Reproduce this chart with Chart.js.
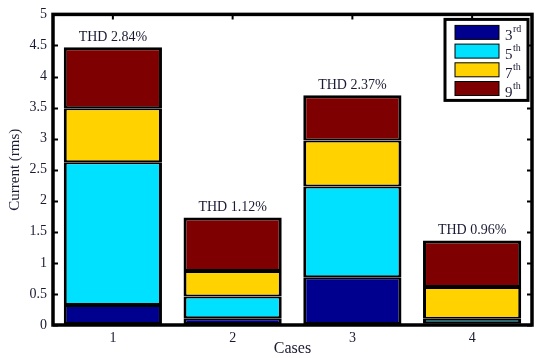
<!DOCTYPE html>
<html>
<head>
<meta charset="utf-8">
<script src="https://cdn.jsdelivr.net/npm/chart.js@4"></script>
<style>
  html, body { margin: 0; padding: 0; background: #fff; }
  #wrap { width: 550px; height: 358px; }
</style>
</head>
<body>
<div id="wrap"><canvas id="harm-graph"></canvas></div>
<script>
// data
var cases = ['1', '2', '3', '4'];
var thd = ['THD 2.84%', 'THD 1.12%', 'THD 2.37%', 'THD 0.96%'];
var h3 = [0.32, 0.11, 0.77, 0.03];
var h5 = [2.30, 0.35, 1.46, 0.07];
var h7 = [0.87, 0.41, 0.74, 0.51];
var h9 = [0.98, 0.86, 0.73, 0.75];
var harmNames = [['3', 'rd'], ['5', 'th'], ['7', 'th'], ['9', 'th']];
var harmColors = ['#00008f', '#00e1ff', '#ffd200', '#7f0000'];
var yTicks = [0, 0.5, 1, 1.5, 2, 2.5, 3, 3.5, 4, 4.5, 5];

var serif = "'Liberation Serif', 'DejaVu Serif', serif";

function bw(i) {
	return {
		left: 3, right: 3,
		top: i == 3 ? 3 : 2,
		bottom: i == 0 ? 3 : 2
	};
}

var frame = {
	id: 'frame',
	afterDatasetsDraw: function(chart) {
		var c = chart.ctx, a = chart.chartArea;
		var x = chart.scales.x, y = chart.scales.y;
		c.save();
		c.strokeStyle = '#000';
		c.lineWidth = 2;
		// inward ticks
		c.beginPath();
		yTicks.forEach(function(v) {
			var py = Math.round(y.getPixelForValue(v)) + 0.5;
			c.moveTo(a.left, py); c.lineTo(a.left + 5, py);
			c.moveTo(a.right, py); c.lineTo(a.right - 5, py);
		});
		cases.forEach(function(k, i) {
			var px = x.getPixelForValue(i);
			c.moveTo(px, a.top); c.lineTo(px, a.top + 5);
		});
		c.stroke();
		c.lineWidth = 3.5;
		c.strokeRect(a.left, a.top, a.right - a.left, a.bottom - a.top);

		// THD labels above the bars
		var top = chart.getDatasetMeta(3);
		c.fillStyle = '#1a1a33';
		c.font = '14px ' + serif;
		c.textAlign = 'center';
		c.textBaseline = 'bottom';
		top.data.forEach(function(bar, i) {
			c.fillText(thd[i], bar.x, bar.y - 3);
		});

		// legend box
		var lx = a.right - 87, ly = a.top + 5, lw = 83, lh = 81;
		c.fillStyle = '#fff';
		c.fillRect(lx, ly, lw, lh);
		c.lineWidth = 3;
		c.strokeRect(lx, ly, lw, lh);
		harmNames.forEach(function(n, i) {
			var ry = ly + 6 + i * 18.7;
			c.fillStyle = harmColors[i];
			c.fillRect(lx + 10, ry, 44, 14);
			c.lineWidth = 1;
			c.strokeStyle = '#000';
			c.strokeRect(lx + 10, ry, 44, 14);
			c.fillStyle = '#1a1a33';
			c.textAlign = 'left';
			c.textBaseline = 'alphabetic';
			c.font = '15px ' + serif;
			c.fillText(n[0], lx + 60, ry + 15);
			c.font = '10px ' + serif;
			c.fillText(n[1], lx + 68, ry + 7);
		});
		c.restore();
	}
};

var ctx = document.getElementById('harm-graph');
var harmChart = new Chart(ctx, {
	type: 'bar',
	data: {
		labels: cases,
		datasets: [h3, h5, h7, h9].map(function(d, i) {
			return {
				label: harmNames[i].join(''),
				data: d,
				backgroundColor: harmColors[i],
				borderColor: '#000',
				borderWidth: bw(i),
				borderSkipped: false,
				barPercentage: 0.82,
				categoryPercentage: 1
			};
		})
	},
	options: {
		responsive: true,
		maintainAspectRatio: false,
		animation: false,
		layout: { padding: { top: 12, right: 18, left: 0, bottom: 0 } },
		plugins: { legend: { display: false }, tooltip: { enabled: false } },
		scales: {
			x: {
				stacked: true,
				grid: { display: false, drawTicks: false },
				border: { display: false },
				ticks: { color: '#1a1a33', font: { family: serif, size: 14 }, padding: 5 },
				title: { display: true, text: 'Cases', color: '#1a1a33', font: { family: serif, size: 16 }, padding: 0 },
				afterFit: function(s) { s.height = 33; }
			},
			y: {
				stacked: true,
				min: 0, max: 5,
				grid: { display: false, drawTicks: false },
				border: { display: false },
				afterBuildTicks: function(s) { s.ticks = yTicks.map(function(v) { return { value: v }; }); },
				ticks: {
					color: '#1a1a33', font: { family: serif, size: 14 }, padding: 6,
					callback: function(v) { return String(v); }
				},
				title: { display: true, text: 'Current (rms)', color: '#1a1a33', font: { family: serif, size: 15 }, padding: { top: 6, bottom: 0 } },
				afterFit: function(s) { s.width = 53; }
			}
		}
	},
	plugins: [frame]
});
</script>
</body>
</html>
